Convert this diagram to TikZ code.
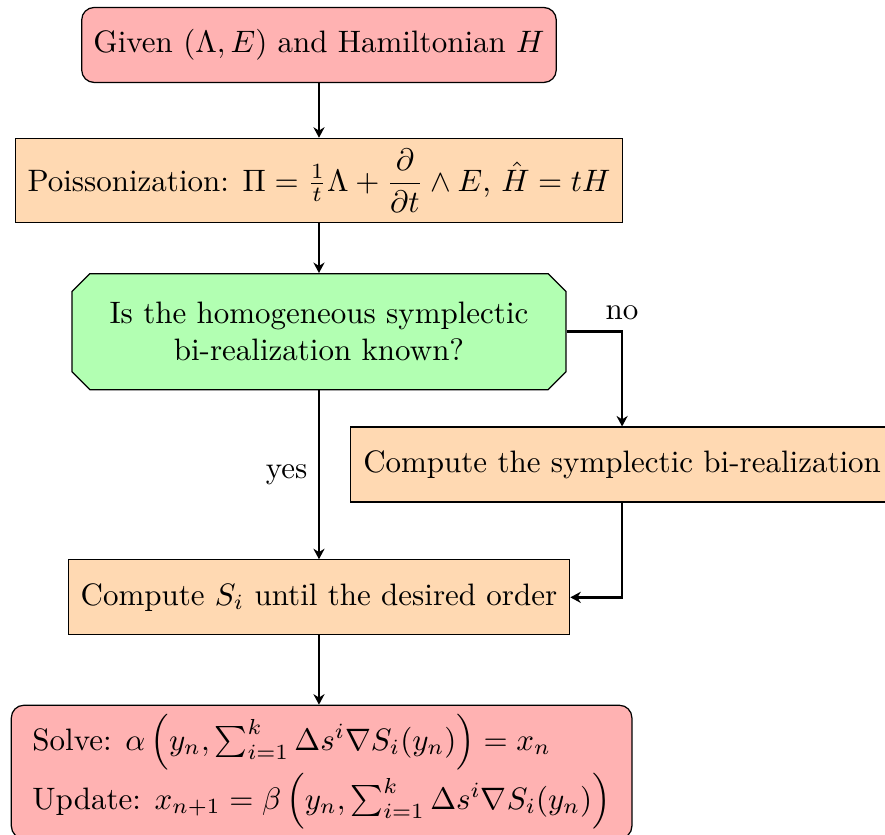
\documentclass[tikz,border=0pt]{standalone}
\usepackage{amsmath,amssymb}
\usepackage{tikz}
\usetikzlibrary{arrows.meta,positioning,calc,shapes.misc}
\colorlet{termfill}{red!30}
\colorlet{procfill}{orange!30}
\colorlet{askfill}{green!30}

\begin{document}
\begin{tikzpicture}[
  term/.style={draw,fill=termfill,rounded corners,minimum height=0.85cm,inner xsep=3.8pt},
  proc/.style={draw,fill=procfill,minimum height=0.85cm,inner xsep=4pt},
  ask/.style={draw,fill=askfill,chamfered rectangle,minimum width=5.6cm,minimum height=1.315cm,align=center},
  flow/.style={-{Stealth[length=3.4pt,width=3.6pt]},thick}]
  \useasboundingbox (-3.617,0.510) rectangle (6.418,-8.947);
  \node[term] (given) {Given $(\Lambda,E)$ and Hamiltonian $H$};
  \node[proc,below=0.62cm of given] (poisson) {Poissonization: $\Pi=\frac{1}{t}\Lambda+\dfrac{\partial}{\partial t}\wedge E$, $\hat{H}=tH$};
  \node[ask,below=0.563cm of poisson] (known) {Is the homogeneous symplectic\\bi-realization known?};
  \node[proc] (bireal) at ($(known.east)+(0.630,-1.507)$) {Compute the symplectic bi-realization};
  \node[proc,below=1.916cm of known] (order) {Compute $S_i$ until the desired order};
  \node[term,below=0.785cm of order,align=left,inner xsep=6.8pt,inner ysep=3pt,xshift=0.03cm] (update) {Solve: $\alpha\left(y_n,\sum_{i=1}^k\Delta s^i\nabla S_i(y_n)\right)=x_n$\\Update: $x_{n+1}=\beta\left(y_n,\sum_{i=1}^k\Delta s^i\nabla S_i(y_n)\right)$};
  \draw[flow] (given.south) -- (given.south |- poisson.north);
  \draw[flow] (given.south |- poisson.south) -- (given.south |- known.north);
  \draw[flow] (known.south) -- node[left] {yes} (known.south |- order.north);
  \draw[flow] (known.east) -| node[above] {no} (bireal.north);
  \draw[flow] (bireal.south) |- (order.east);
  \draw[flow] (order.south) -- (order.south |- update.north);
\end{tikzpicture}
\end{document}
